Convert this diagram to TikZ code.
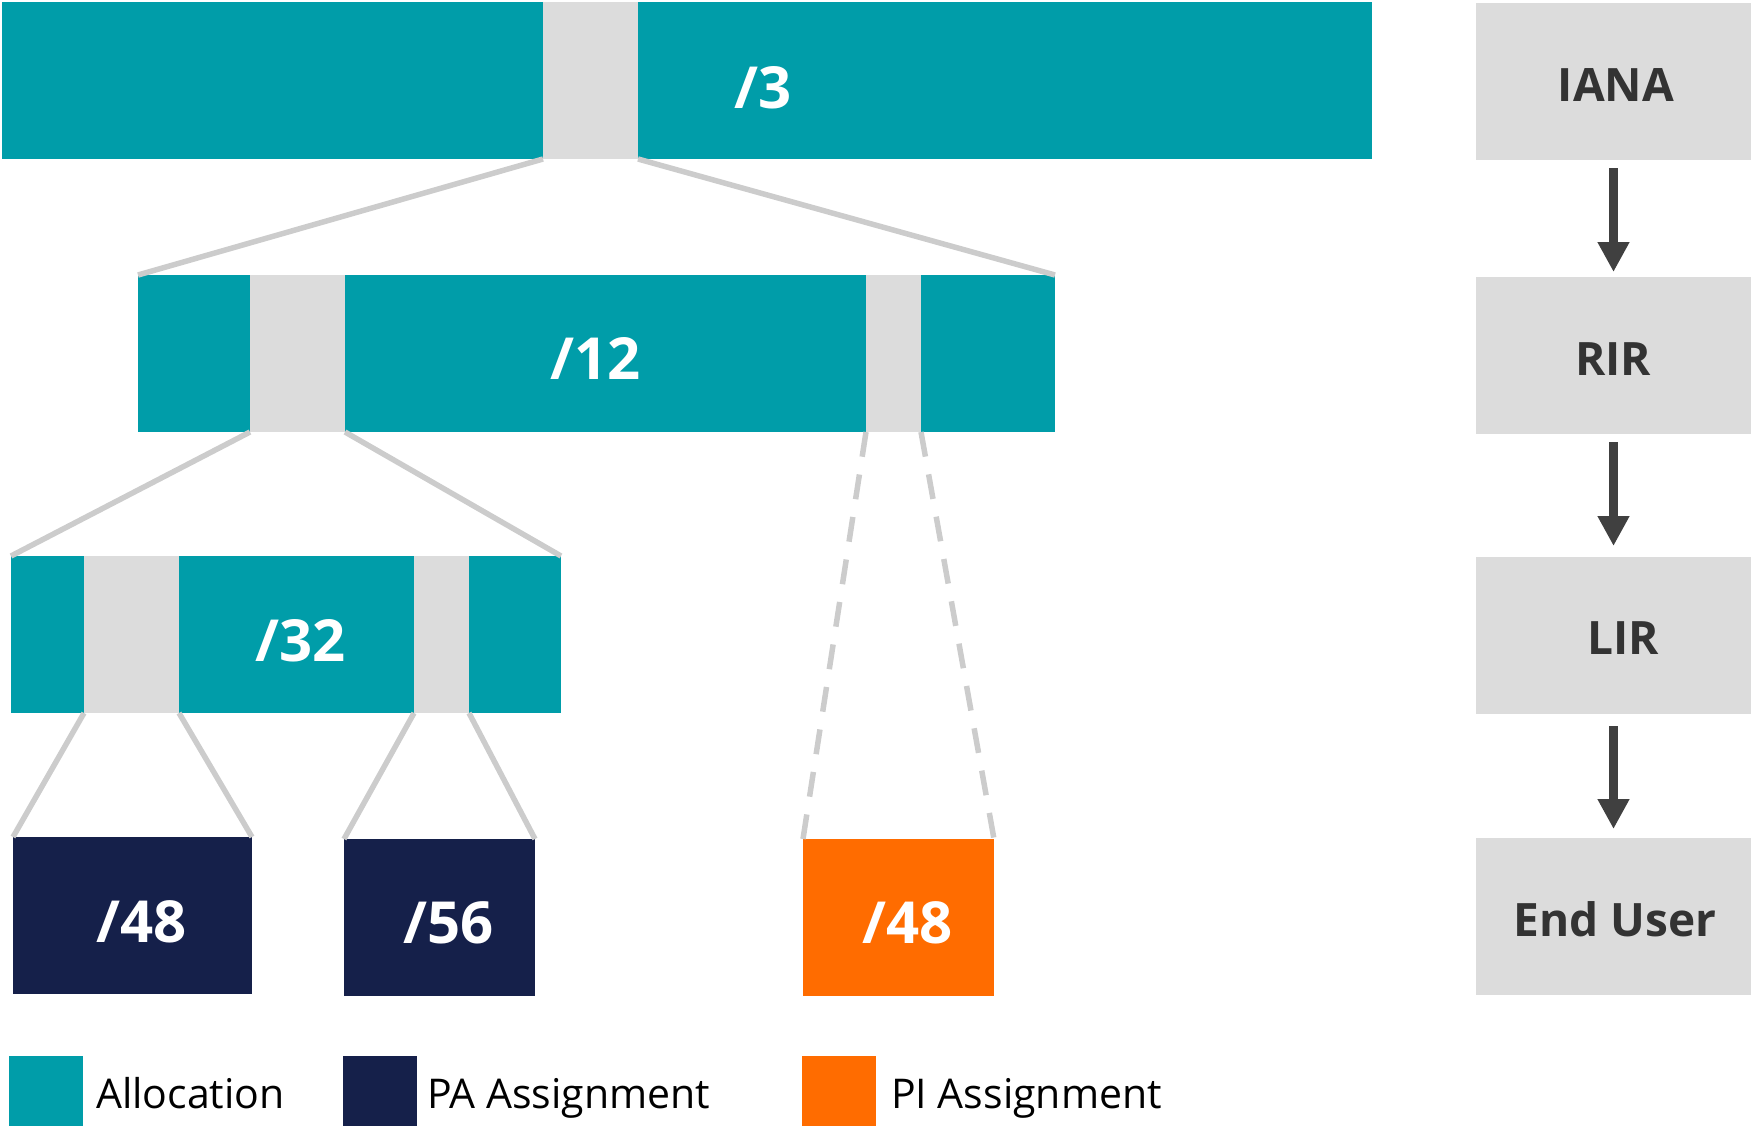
\documentclass[tikz,border=0pt]{standalone}
\usepackage{fontspec}
\setmainfont{Open Sans}
\usetikzlibrary{arrows.meta}
\definecolor{cTeal}{HTML}{009DA9}
\definecolor{cNavy}{HTML}{15204A}
\definecolor{cOrange}{HTML}{FF6C00}
\definecolor{cGray}{HTML}{DCDCDC}
\definecolor{cLine}{HTML}{CCCCCC}
\definecolor{cArrow}{HTML}{404040}
\definecolor{cText}{HTML}{333333}
\begin{document}
\begin{tikzpicture}[x=1pt,y=-1pt,
  blk/.style={anchor=north west, inner sep=0pt, outer sep=0pt, draw=none},
  tealblk/.style={blk, fill=cTeal},
  grayblk/.style={blk, fill=cGray},
  navyblk/.style={blk, fill=cNavy},
  orangeblk/.style={blk, fill=cOrange},
  numlabel/.style={anchor=base, inner sep=0pt, text=white, font=\fontsize{58}{60}\selectfont\bfseries},
  rlabel/.style={anchor=base, inner sep=0pt, text=cText, font=\fontsize{46}{48}\selectfont\bfseries},
  leglabel/.style={anchor=base west, inner sep=0pt, text=black, font=\fontsize{41}{43}\selectfont},
  conn/.style={draw=cLine, line width=5.5pt},
  dconn/.style={conn, dash pattern=on 25pt off 18pt},
  arr/.style={draw=cArrow, line width=9pt, -{Triangle[length=30pt,width=30pt]}}
]
\useasboundingbox (0,0) rectangle (1751,1127);

% level bars
\node[tealblk, minimum width=1370pt, minimum height=157pt] (bar1) at (2,2) {};
\node[grayblk, minimum width=95pt, minimum height=157pt] (g1) at (543,2) {};
\node[tealblk, minimum width=917pt, minimum height=157pt] (bar2) at (138,275) {};
\node[grayblk, minimum width=95pt, minimum height=157pt] (g2a) at (250,275) {};
\node[grayblk, minimum width=55pt, minimum height=157pt] (g2b) at (866,275) {};
\node[tealblk, minimum width=550pt, minimum height=157pt] (bar3) at (11,556) {};
\node[grayblk, minimum width=95pt, minimum height=157pt] (g3a) at (84,556) {};
\node[grayblk, minimum width=55pt, minimum height=157pt] (g3b) at (414,556) {};
\node[navyblk, minimum width=239pt, minimum height=157pt] (b48) at (13,837) {};
\node[navyblk, minimum width=191pt, minimum height=157pt] (b56) at (344,839) {};
\node[orangeblk, minimum width=191pt, minimum height=157pt] (b48o) at (803,839) {};

% labels
\node[numlabel] (l3) at (763,108) {/3};
\node[numlabel] (l12) at (596,379) {/12};
\node[numlabel] (l32) at (301,661) {/32};
\node[numlabel] (l48) at (142,942) {/48};
\node[numlabel] (l56) at (449,943) {/56};
\node[numlabel] (l48o) at (908,943) {/48};

% connectors
\draw[conn] (g1.south west) -- (bar2.north west);
\draw[conn] (g1.south east) -- (bar2.north east);
\draw[conn] (g2a.south west) -- (bar3.north west);
\draw[conn] (g2a.south east) -- (bar3.north east);
\draw[dconn] (g2b.south west) -- (b48o.north west);
\draw[dconn] (g2b.south east) -- (b48o.north east);
\draw[conn] (g3a.south west) -- (b48.north west);
\draw[conn] (g3a.south east) -- (b48.north east);
\draw[conn] (g3b.south west) -- (b56.north west);
\draw[conn] (g3b.south east) -- (b56.north east);

% hierarchy
\node[grayblk, minimum width=275pt, minimum height=157pt] (iana) at (1476,3) {};
\node[grayblk, minimum width=275pt, minimum height=157pt] (rir) at (1476,277) {};
\node[grayblk, minimum width=275pt, minimum height=157pt] (lir) at (1476,557) {};
\node[grayblk, minimum width=275pt, minimum height=157pt] (eu) at (1476,838) {};
\node[rlabel] (tiana) at (1616,101) {IANA};
\node[rlabel] (trir) at (1613,375) {RIR};
\node[rlabel] (tlir) at (1623,654) {LIR};
\node[rlabel] (teu) at (1615,936) {End User};
\draw[arr, shorten <=8pt, shorten >=5pt] (iana) -- (rir);
\draw[arr, shorten <=8pt, shorten >=11pt] (rir) -- (lir);
\draw[arr, shorten <=12pt, shorten >=9pt] (lir) -- (eu);

% legend
\node[tealblk, minimum width=74pt, minimum height=70pt] (k1) at (9,1056) {};
\node[navyblk, minimum width=74pt, minimum height=70pt] (k2) at (343,1056) {};
\node[orangeblk, minimum width=74pt, minimum height=70pt] (k3) at (802,1056) {};
\node[leglabel] (t1) at (96,1108) {Allocation};
\node[leglabel] (t2) at (427,1108) {PA Assignment};
\node[leglabel] (t3) at (891,1108) {PI Assignment};
\end{tikzpicture}
\end{document}
